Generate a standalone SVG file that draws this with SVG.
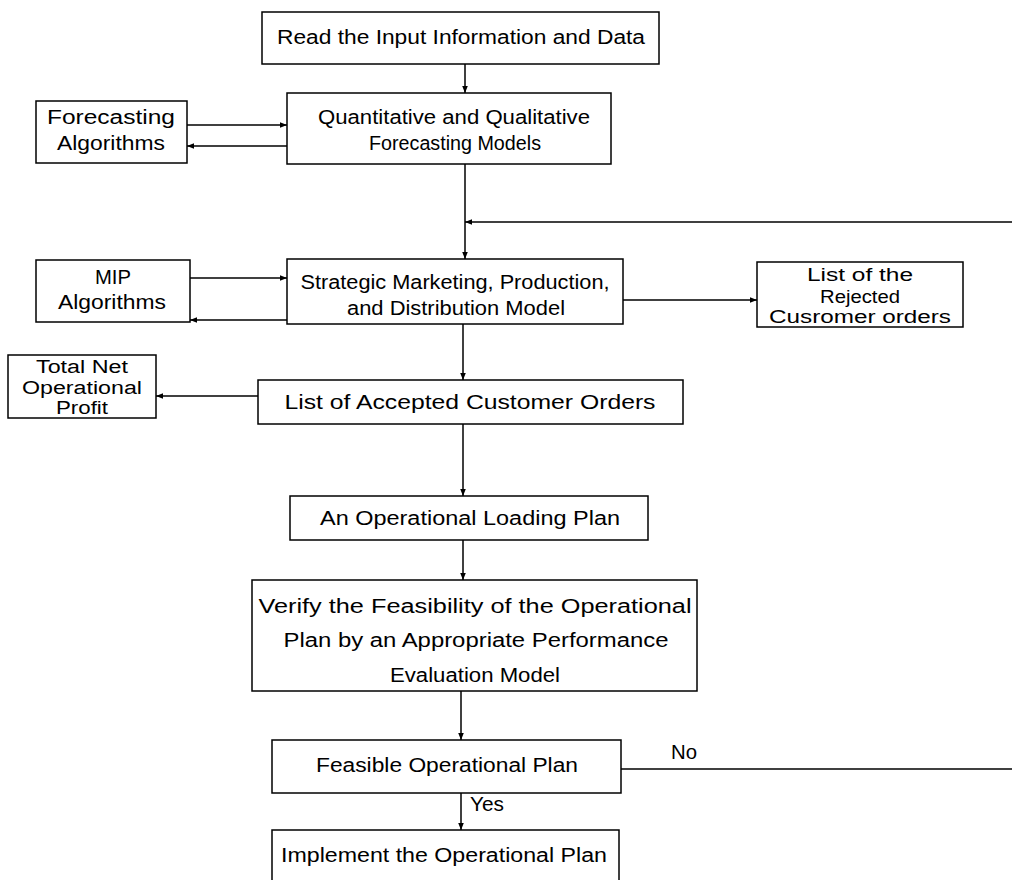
<svg xmlns="http://www.w3.org/2000/svg" width="1012" height="880" viewBox="0 0 1012 880">
<defs>
<marker id="ah" viewBox="0 0 10 10" refX="10" refY="5" markerWidth="7" markerHeight="7" markerUnits="userSpaceOnUse" orient="auto">
<path d="M0,1 L10,5 L0,9 z" fill="#000"/>
</marker>
</defs>
<style>
.box{fill:#fff;stroke:#000;stroke-width:1.5}
.t{font-family:"Liberation Sans",Arial,sans-serif;font-size:20px;fill:#000;text-anchor:middle}
.s{font-size:18px}
.c{fill:none;stroke:#000;stroke-width:1.5}
</style>
<rect width="1012" height="880" fill="#fff"/>
<g id="connectors">
<line class="c" x1="465" y1="64" x2="465" y2="93" marker-end="url(#ah)"/>
<line class="c" x1="187" y1="125" x2="287" y2="125" marker-end="url(#ah)"/>
<line class="c" x1="287" y1="146" x2="187" y2="146" marker-end="url(#ah)"/>
<line class="c" x1="465" y1="164" x2="465" y2="259" marker-end="url(#ah)"/>
<line class="c" x1="1012" y1="222" x2="465" y2="222" marker-end="url(#ah)"/>
<line class="c" x1="190" y1="278" x2="287" y2="278" marker-end="url(#ah)"/>
<line class="c" x1="287" y1="320" x2="190" y2="320" marker-end="url(#ah)"/>
<line class="c" x1="623" y1="300" x2="757" y2="300" marker-end="url(#ah)"/>
<line class="c" x1="463" y1="324" x2="463" y2="380" marker-end="url(#ah)"/>
<line class="c" x1="258" y1="396" x2="156" y2="396" marker-end="url(#ah)"/>
<line class="c" x1="463" y1="424" x2="463" y2="496" marker-end="url(#ah)"/>
<line class="c" x1="463" y1="540" x2="463" y2="580" marker-end="url(#ah)"/>
<line class="c" x1="461" y1="691" x2="461" y2="740" marker-end="url(#ah)"/>
<line class="c" x1="621" y1="769" x2="1012" y2="769"/>
<line class="c" x1="461" y1="793" x2="461" y2="830" marker-end="url(#ah)"/>
<text class="t" x="684" y="759" textLength="26" lengthAdjust="spacingAndGlyphs">No</text>
<text class="t" x="487" y="811" textLength="34" lengthAdjust="spacingAndGlyphs">Yes</text>
</g>
<g id="n1"><rect class="box" x="262" y="12" width="397" height="52"/><text class="t" x="461" y="44" textLength="368" lengthAdjust="spacingAndGlyphs">Read the Input Information and Data</text></g>
<g id="n2"><rect class="box" x="287" y="93" width="324" height="71"/><text class="t" x="454" y="124" textLength="272" lengthAdjust="spacingAndGlyphs">Quantitative and Qualitative</text><text class="t" x="455" y="150" textLength="172" lengthAdjust="spacingAndGlyphs">Forecasting Models</text></g>
<g id="n3"><rect class="box" x="36" y="101" width="151" height="62"/><text class="t" x="111" y="124" textLength="128" lengthAdjust="spacingAndGlyphs">Forecasting</text><text class="t" x="111" y="150" textLength="108" lengthAdjust="spacingAndGlyphs">Algorithms</text></g>
<g id="n4"><rect class="box" x="36" y="260" width="154" height="62"/><text class="t" x="113" y="284" textLength="36" lengthAdjust="spacingAndGlyphs">MIP</text><text class="t" x="112" y="309" textLength="108" lengthAdjust="spacingAndGlyphs">Algorithms</text></g>
<g id="n5"><rect class="box" x="287" y="259" width="336" height="65"/><text class="t" x="455" y="289" textLength="309" lengthAdjust="spacingAndGlyphs">Strategic Marketing, Production,</text><text class="t" x="456" y="315" textLength="218" lengthAdjust="spacingAndGlyphs">and Distribution Model</text></g>
<g id="n6"><rect class="box" x="757" y="262" width="206" height="65"/><text class="t s" x="860" y="281" textLength="106" lengthAdjust="spacingAndGlyphs">List of the</text><text class="t s" x="860" y="303" textLength="80" lengthAdjust="spacingAndGlyphs">Rejected</text><text class="t s" x="860" y="323" textLength="182" lengthAdjust="spacingAndGlyphs">Cusromer orders</text></g>
<g id="n7"><rect class="box" x="8" y="355" width="148" height="63"/><text class="t s" x="82" y="373" textLength="92" lengthAdjust="spacingAndGlyphs">Total Net</text><text class="t s" x="82" y="394" textLength="120" lengthAdjust="spacingAndGlyphs">Operational</text><text class="t s" x="82" y="414" textLength="52" lengthAdjust="spacingAndGlyphs">Profit</text></g>
<g id="n8"><rect class="box" x="258" y="380" width="425" height="44"/><text class="t" x="470" y="409" textLength="371" lengthAdjust="spacingAndGlyphs">List of Accepted Customer Orders</text></g>
<g id="n9"><rect class="box" x="290" y="496" width="358" height="44"/><text class="t" x="470" y="525" textLength="300" lengthAdjust="spacingAndGlyphs">An Operational Loading Plan</text></g>
<g id="n10"><rect class="box" x="252" y="580" width="445" height="111"/><text class="t" x="475" y="613" textLength="433" lengthAdjust="spacingAndGlyphs">Verify the Feasibility of the Operational</text><text class="t" x="476" y="647" textLength="385" lengthAdjust="spacingAndGlyphs">Plan by an Appropriate Performance</text><text class="t" x="475" y="682" textLength="170" lengthAdjust="spacingAndGlyphs">Evaluation Model</text></g>
<g id="n11"><rect class="box" x="272" y="740" width="349" height="53"/><text class="t" x="447" y="772" textLength="262" lengthAdjust="spacingAndGlyphs">Feasible Operational Plan</text></g>
<g id="n12"><rect class="box" x="272" y="830" width="347" height="52"/><text class="t" x="444" y="862" textLength="326" lengthAdjust="spacingAndGlyphs">Implement the Operational Plan</text></g>
</svg>
